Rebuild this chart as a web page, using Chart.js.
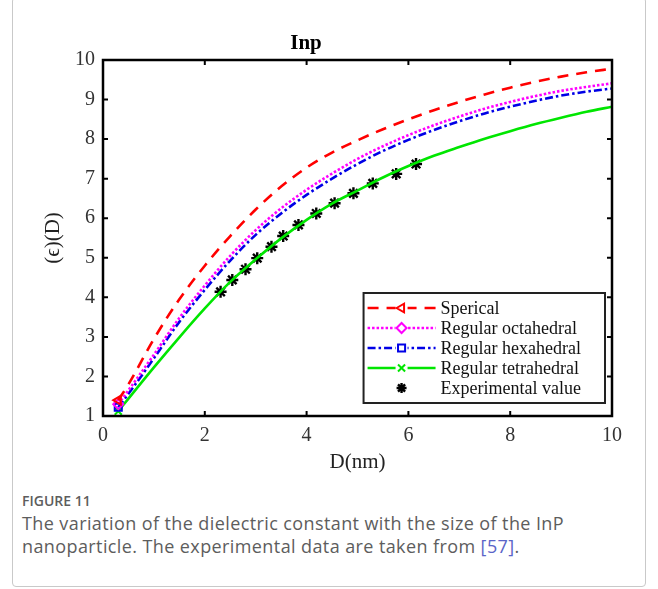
<!DOCTYPE html>
<html lang="en">
<head>
<meta charset="UTF-8">
<title>Inp</title>
<script src="https://cdn.jsdelivr.net/npm/chart.js"></script>
<style>
    body { margin: 0; background: #fff; width: 658px; height: 589px; position: relative; overflow: hidden; }
    .frame { position: absolute; left: 12px; top: -3px; width: 634px; height: 590px; border: 1px solid #c9c9c9; border-radius: 4px; box-sizing: border-box; }
    .chartBox { position: absolute; left: 0; top: 0; width: 658px; height: 480px; }
    .caption { position: absolute; left: 22px; top: 491px; width: 620px; font-family: "Open Sans", sans-serif; color: #5d5d5d; }
    .caption .fig { font-size: 14px; font-weight: 600; margin-bottom: 2px; }
    .caption .txt { font-size: 18px; line-height: 23px; font-weight: 400; letter-spacing: 0.4px; white-space: nowrap; }
    .caption .ref { color: #5a64c8; }
</style>
</head>
<body>
<div class="frame"></div>
<div class="chartBox"><canvas id="eqChart" width="658" height="480"></canvas></div>
<div class="caption">
    <div class="fig">FIGURE 11</div>
    <div class="txt">The variation of the dielectric constant with the size of the InP<br>nanoparticle. The experimental data are taken from <span class="ref">[57]</span>.</div>
</div>
<script>
    // sizes D (nm) where the model curves were read
    const sizes = [0.3, 0.5, 1, 1.5, 2, 2.5, 3, 3.5, 4, 4.5, 5, 5.5, 6, 6.5, 7, 7.5, 8, 8.5, 9, 9.5, 10];
    const sperical    = [1.4, 1.8, 2.95, 3.95, 4.8, 5.55, 6.22, 6.8, 7.28, 7.66, 7.97, 8.25, 8.5, 8.73, 8.94, 9.13, 9.3, 9.45, 9.58, 9.69, 9.78];
    const octahedral  = [1.3, 1.65, 2.55, 3.48, 4.3, 5.05, 5.7, 6.25, 6.72, 7.13, 7.5, 7.82, 8.1, 8.35, 8.57, 8.77, 8.94, 9.09, 9.22, 9.32, 9.41];
    const hexahedral  = [1.22, 1.56, 2.46, 3.38, 4.19, 4.93, 5.58, 6.12, 6.59, 7.0, 7.37, 7.7, 7.98, 8.23, 8.45, 8.65, 8.82, 8.97, 9.1, 9.2, 9.28];
    const tetrahedral = [1.12, 1.44, 2.23, 2.99, 3.72, 4.39, 4.96, 5.49, 5.96, 6.37, 6.7, 7.03, 7.32, 7.58, 7.8, 8.01, 8.2, 8.38, 8.54, 8.69, 8.82];

    // experimental points
    const expD = [2.31, 2.54, 2.80, 3.03, 3.31, 3.54, 3.84, 4.19, 4.55, 4.92, 5.30, 5.76, 6.15];
    const expEps = [4.14, 4.44, 4.71, 4.99, 5.28, 5.55, 5.83, 6.12, 6.38, 6.63, 6.88, 7.12, 7.37];

    const xTicks = [0, 2, 4, 6, 8, 10];
    const yTicks = [1, 2, 3, 4, 5, 6, 7, 8, 9, 10];

    const serif = '"Liberation Serif", "DejaVu Serif", serif';

    function toPoints(xs, ys) {
        return xs.map((x, i) => ({ x: x, y: ys[i] }));
    }
    // marker only on the first point, like the matlab figure
    function firstOnly(r) {
        return sizes.map((x, i) => i === 0 ? r : 0);
    }

    const series = [
        { label: 'Sperical', data: sperical, color: 'rgb(255,0,0)', dash: [11, 8], style: 'triangle', rot: -90 },
        { label: 'Regular octahedral', data: octahedral, color: 'rgb(255,0,255)', dash: [2.5, 2], style: 'rectRot', rot: 0 },
        { label: 'Regular hexahedral', data: hexahedral, color: 'rgb(0,0,230)', dash: [8, 3, 2.5, 3], style: 'rect', rot: 0 },
        { label: 'Regular tetrahedral', data: tetrahedral, color: 'rgb(0,230,0)', dash: [], style: 'crossRot', rot: 0 }
    ];

    const datasets = series.map(s => ({
        label: s.label,
        data: toPoints(sizes, s.data),
        borderColor: s.color,
        borderDash: s.dash,
        borderWidth: 2.6,
        cubicInterpolationMode: 'monotone',
        pointStyle: s.style,
        pointRotation: s.rot,
        pointRadius: firstOnly(5),
        pointBorderWidth: 2,
        pointBorderColor: s.color,
        pointBackgroundColor: 'rgba(0,0,0,0)',
        showLine: true,
        fill: false
    }));

    datasets.push({
        label: 'Experimental value',
        data: toPoints(expD, expEps),
        showLine: false,
        pointStyle: 'star',
        pointRadius: 6,
        pointBorderWidth: 2.4,
        pointBorderColor: '#000',
        pointBackgroundColor: '#000'
    });

    // matlab style box with inward ticks on all four sides
    const boxPlugin = {
        id: 'boxPlugin',
        afterDatasetsDraw(chart) {
            const { ctx, chartArea: a, scales } = chart;
            ctx.save();
            ctx.strokeStyle = '#000';
            ctx.lineWidth = 2;
            ctx.beginPath();
            xTicks.forEach(v => {
                const px = scales.x.getPixelForValue(v);
                ctx.moveTo(px, a.bottom); ctx.lineTo(px, a.bottom - 5);
                ctx.moveTo(px, a.top); ctx.lineTo(px, a.top + 5);
            });
            yTicks.forEach(v => {
                const py = scales.y.getPixelForValue(v);
                ctx.moveTo(a.left, py); ctx.lineTo(a.left + 5, py);
                ctx.moveTo(a.right, py); ctx.lineTo(a.right - 5, py);
            });
            ctx.stroke();
            ctx.lineWidth = 2.5;
            ctx.strokeRect(a.left, a.top, a.right - a.left, a.bottom - a.top);
            ctx.restore();
        }
    };

    // legend drawn inside the axes, bottom right
    const boxLegend = {
        id: 'boxLegend',
        afterDraw(chart) {
            const { ctx, chartArea: a } = chart;
            const ds = chart.data.datasets;
            ctx.save();
            ctx.font = '18px ' + serif;
            let maxW = 0;
            ds.forEach(d => { maxW = Math.max(maxW, ctx.measureText(d.label).width); });
            const rowH = 20;
            const sample = 68;
            const textOff = 77;
            const w = textOff + maxW + 24;
            const h = rowH * ds.length + 10;
            const right = a.right - 7;
            const bottom = a.bottom - 13;
            const left = right - w;
            const top = bottom - h;
            ctx.fillStyle = '#fff';
            ctx.fillRect(left, top, w, h);
            ctx.strokeStyle = '#222';
            ctx.lineWidth = 2;
            ctx.strokeRect(left, top, w, h);

            ds.forEach((d, i) => {
                const cy = top + 15 + i * rowH;
                const x0 = left + 4;
                if (d.showLine !== false) {
                    ctx.save();
                    ctx.strokeStyle = d.borderColor;
                    ctx.lineWidth = d.borderWidth;
                    ctx.setLineDash(d.borderDash || []);
                    ctx.beginPath();
                    ctx.moveTo(x0, cy);
                    ctx.lineTo(x0 + sample, cy);
                    ctx.stroke();
                    ctx.restore();
                }
                const mx = x0 + sample / 2;
                ctx.save();
                if (d.showLine !== false) {
                    ctx.fillStyle = '#fff';
                    ctx.fillRect(mx - 6, cy - 6, 12, 12);
                }
                const opts = {
                    pointStyle: d.pointStyle,
                    rotation: d.pointRotation || 0,
                    radius: 5,
                    borderWidth: d.pointBorderWidth
                };
                ctx.strokeStyle = d.pointBorderColor;
                ctx.fillStyle = d.pointBackgroundColor;
                ctx.lineWidth = d.pointBorderWidth;
                if (Chart.helpers && Chart.helpers.drawPoint) {
                    Chart.helpers.drawPoint(ctx, opts, mx, cy);
                }
                ctx.restore();
                ctx.fillStyle = '#111';
                ctx.textBaseline = 'middle';
                ctx.textAlign = 'left';
                ctx.fillText(d.label, left + textOff, cy + 1);
            });
            ctx.restore();
        }
    };

    const ctx = document.getElementById('eqChart').getContext('2d');
    const eqChart = new Chart(ctx, {
        type: 'line',
        data: { datasets: datasets },
        options: {
            responsive: false,
            animation: false,
            layout: { padding: { left: 0, right: 46, top: 0, bottom: 0 } },
            plugins: {
                legend: { display: false },
                tooltip: { enabled: false },
                title: {
                    display: true,
                    text: 'Inp',
                    color: '#000',
                    font: { family: serif, size: 21, weight: 'bold', lineHeight: 1.2 },
                    padding: { top: 31.4, bottom: 3.4 }
                }
            },
            scales: {
                x: {
                    type: 'linear',
                    min: 0,
                    max: 10,
                    afterBuildTicks: s => { s.ticks = xTicks.map(v => ({ value: v })); },
                    afterFit: s => { s.height = 64; },
                    grid: { display: false, drawTicks: false },
                    border: { display: false },
                    ticks: { color: '#333', padding: 8, font: { family: serif, size: 20 } },
                    title: {
                        display: true,
                        text: 'D(nm)',
                        color: '#222',
                        font: { family: serif, size: 21, lineHeight: 1.2 },
                        padding: { top: 0, bottom: 5.4 }
                    }
                },
                y: {
                    type: 'linear',
                    min: 1,
                    max: 10,
                    afterBuildTicks: s => { s.ticks = yTicks.map(v => ({ value: v })); },
                    afterFit: s => { s.width = 103; },
                    grid: { display: false, drawTicks: false },
                    border: { display: false },
                    ticks: { color: '#333', padding: 8, font: { family: serif, size: 20 } },
                    title: {
                        display: true,
                        text: '(ϵ)(D)',
                        color: '#222',
                        font: { family: serif, size: 21, lineHeight: 1.2 },
                        padding: { top: 40.4, bottom: 0 }
                    }
                }
            }
        },
        plugins: [boxPlugin, boxLegend]
    });
</script>
</body>
</html>
